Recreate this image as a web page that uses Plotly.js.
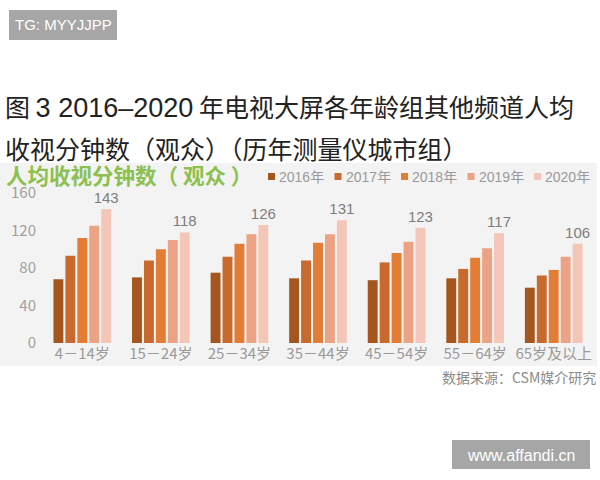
<!DOCTYPE html>
<html><head><meta charset="utf-8">
<script src="https://cdn.plot.ly/plotly-3.0.1.min.js"></script>
<style>html,body{margin:0;padding:0;background:#fff;}#chart{width:600px;height:480px;}</style>
</head><body><div id="chart"></div>
<script>
const categories = ["4－14岁","15－24岁","25－34岁","35－44岁","45－54岁","55－64岁","65岁及以上"];
const years = ["2016年","2017年","2018年","2019年","2020年"];
const v2016 = [68, 70, 75, 69, 67, 69, 59];
const v2017 = [93, 88, 92, 88, 86, 79, 72];
const v2018 = [112, 100, 106, 107, 96, 91, 78];
const v2019 = [125, 110, 116, 116, 108, 101, 92];
const v2020 = [143, 118, 126, 131, 123, 117, 106];
const seriesValues = [v2016, v2017, v2018, v2019, v2020];
const colors = ["#a5561f", "#c86a2d", "#e37d35", "#eba285", "#f4c6b8"];

const W = 600, H = 480;
const M = {l: 43, r: 7, t: 193, b: 137};
const PW = W - M.l - M.r, PH = H - M.t - M.b;
const px = x => (x - M.l) / PW;
const py = y => (H - M.b - y) / PH;
const CJK = '"Noto Sans CJK SC", "Noto Sans", sans-serif';
const LAT = '"Liberation Sans", "Noto Sans CJK SC", sans-serif';

const traces = seriesValues.map((vals, i) => {
  const t = {
    type: 'bar', name: years[i], x: categories, y: vals,
    marker: {color: colors[i], line: {width: 0}},
    hoverinfo: 'x+y+name', showlegend: false
  };
  if (i === seriesValues.length - 1) {
    t.text = vals.map(String);
    t.textposition = 'outside';
    t.constraintext = 'none';
    t.textfont = {family: LAT, size: 15, color: '#7d7d7d'};
    t.cliponaxis = false;
  }
  return t;
});

const shapes = [
  {type: 'rect', xref: 'paper', yref: 'paper', x0: px(0), x1: px(597), y0: py(366), y1: py(163),
   fillcolor: '#f3f3f3', line: {width: 0}, layer: 'below'},
  {type: 'rect', xref: 'paper', yref: 'paper', x0: px(9), x1: px(117), y0: py(40), y1: py(10),
   fillcolor: '#a6a6a6', line: {width: 0}, layer: 'above'},
  {type: 'rect', xref: 'paper', yref: 'paper', x0: px(452), x1: px(590), y0: py(469), y1: py(440),
   fillcolor: '#a6a6a6', line: {width: 0}, layer: 'above'}
];

const annotations = [
  {text: '图 <span style="font-family:Liberation Sans;font-size:27px">3 2016–2020</span> 年电视大屏各年龄组其他频道人均',
   xref: 'paper', yref: 'paper',
   x: px(3), y: py(106), xanchor: 'left', yanchor: 'middle', showarrow: false,
   font: {family: CJK, size: 25, color: '#222'}},
  {text: '收视分钟数（观众）（历年测量仪城市组）', xref: 'paper', yref: 'paper',
   x: px(3), y: py(148), xanchor: 'left', yanchor: 'middle', showarrow: false,
   font: {family: CJK, size: 25, color: '#222'}},
  {text: '<b>人均收视分钟数（ 观众 ）</b>', xref: 'paper', yref: 'paper',
   x: px(4), y: py(174), xanchor: 'left', yanchor: 'middle', showarrow: false,
   font: {family: CJK, size: 21.5, color: '#8cc04f'}},
  {text: '数据来源：CSM媒介研究', xref: 'paper', yref: 'paper',
   x: px(598), y: py(377), xanchor: 'right', yanchor: 'middle', showarrow: false,
   font: {family: CJK, size: 14, color: '#8a8a8a'}},
  {text: 'TG: MYYJJPP', xref: 'paper', yref: 'paper',
   x: px(63), y: py(25), xanchor: 'center', yanchor: 'middle', showarrow: false,
   font: {family: '"Liberation Sans", Arial, sans-serif', size: 15, color: '#ffffff'}},
  {text: 'www.affandi.cn', xref: 'paper', yref: 'paper',
   x: px(521), y: py(455), xanchor: 'center', yanchor: 'middle', showarrow: false,
   font: {family: '"Liberation Sans", Arial, sans-serif', size: 16, color: '#ffffff'}}
];

// legend (keys) built from the year names and colours
years.forEach((yr, i) => {
  const x0 = 268 + i * 66.5;
  shapes.push({type: 'rect', xref: 'paper', yref: 'paper', x0: px(x0), x1: px(x0 + 7),
    y0: py(180), y1: py(173), fillcolor: colors[i], line: {width: 0}, layer: 'above'});
  annotations.push({text: yr, xref: 'paper', yref: 'paper', x: px(x0 + 9), y: py(176.5),
    xanchor: 'left', yanchor: 'middle', showarrow: false,
    font: {family: LAT, size: 14, color: '#9a9a9a'}});
});

const layout = {
  width: W, height: H,
  margin: M,
  paper_bgcolor: '#ffffff', plot_bgcolor: 'rgba(0,0,0,0)',
  barmode: 'group', bargap: 0.24, bargroupgap: 0.17,
  font: {family: CJK, color: '#999'},
  showlegend: false,
  xaxis: {
    showgrid: false, zeroline: false, showline: false, ticks: '',
    tickfont: {family: CJK, size: 15, color: '#9a9a9a'}, fixedrange: true
  },
  yaxis: {
    range: [0, 160], tickvals: [0, 40, 80, 120, 160], showgrid: false,
    zeroline: false, showline: false, ticks: '', ticklabelstandoff: 6,
    tickfont: {family: CJK, size: 15, color: '#a0a0a0'}, fixedrange: true
  },
  shapes: shapes,
  annotations: annotations
};

Plotly.newPlot('chart', traces, layout, {displayModeBar: false, staticPlot: true});
</script></body></html>
